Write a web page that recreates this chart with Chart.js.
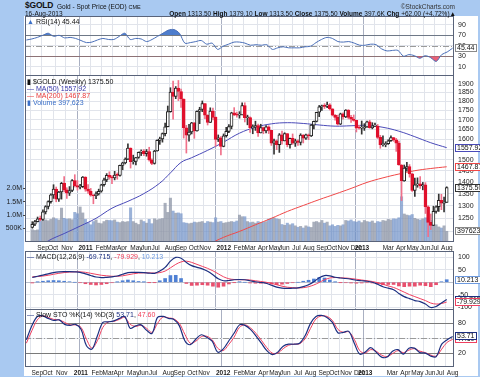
<!DOCTYPE html>
<html>
<head>
<meta charset="utf-8">
<script src="https://cdn.jsdelivr.net/npm/chart.js@4.4.1/dist/chart.umd.min.js"></script>
<style>
  body { margin:0; width:480px; height:377px; overflow:hidden; position:relative; background:#a9c9f1; font-family:"Liberation Sans", Arial, sans-serif; }
  #frame { position:absolute; left:24px; top:16px; width:454px; height:360px; background:#fff; }
  canvas { position:absolute; left:0; }
  .t { position:absolute; white-space:nowrap; font-size:7px; line-height:7px; color:#111; z-index:5; }
</style>
</head>
<body>
<div id="frame"></div>
<canvas id="rsiChart" width="480" height="60" style="top:16px"></canvas>
<canvas id="priceChart" width="480" height="177" style="top:75px"></canvas>
<canvas id="macdChart" width="480" height="59" style="top:251px"></canvas>
<canvas id="stoChart" width="480" height="68" style="top:309px"></canvas>

<div class="t" style="left:25px;top:1px;font-size:8.5px;line-height:9px;font-weight:bold;letter-spacing:-0.2px">$GOLD</div>
<div class="t" style="left:57px;top:3px;font-size:6.5px">Gold - Spot Price (EOD) <span style="font-size:5.5px">CME</span></div>
<div class="t" style="right:25px;top:3px;color:#333;font-size:6.5px">&copy;StockCharts.com</div>
<div class="t" style="left:25px;top:10px;font-size:6.5px">16-Aug-2013</div>
<div class="t" style="right:24px;top:10px;font-size:6.5px"><b>Open</b> 1313.50 <b>High</b> 1379.10 <b>Low</b> 1313.50 <b>Close</b> 1375.50 <b>Volume</b> 397.6K <b>Chg</b> +62.00 (+4.72%)&#9650;</div>

<div class="t" style="left:27px;top:18px"><span style="color:#3a6fc8">&#9650;</span> RSI(14) 45.44</div>
<div class="t" style="left:27px;top:78px"><b>&#9646;</b> $GOLD (Weekly) 1375.50</div>
<div class="t" style="left:27px;top:85px;color:#3434a8">&#8212; MA(50) 1557.92</div>
<div class="t" style="left:27px;top:92px;color:#e83838">&#8212; MA(200) 1467.87</div>
<div class="t" style="left:27px;top:99px;color:#3a6fc8">&#9646; Volume 397,623</div>
<div class="t" style="left:27px;top:253px"><span style="color:#1c2f80">&#8212;</span> MACD(12,26,9) <span style="color:#1c2f80">-69.715</span>, <span style="color:#f0405a">-79.929</span>, <span style="color:#6d9ae0">10.213</span></div>
<div class="t" style="left:27px;top:311px"><span style="color:#1c2f80">&#8212;</span> Slow STO %K(14) %D(3) <span style="color:#1c2f80">53.71</span>, <span style="color:#f0405a">47.60</span></div>

<script>
// weekly bars, 20-Aug-2010 .. 16-Aug-2013 (157 weeks)
const opens = [1215,1227,1237,1248,1246,1275,1297,1317,1345,1369,1327,1357,1394,1366,1352,1363,1406,1384,1377,1380,
  1421,1369,1360,1343,1341,1349,1360,1388,1409,1429,1421,1418,1430,1429,1474,1486,1503,1556,1491,1493,1511,1536,1542,1529,1539,1500,1483,1542,1594,1601,1628,1663,1743,1852,1828,1876,1856,1813,1657,1620,1636,1683,1642,1745,1755,1788,1724,1685,1746,1712,1598,1606,
  1564,1617,1639,1664,1737,1725,1724,1725,1776,1710,1711,1658,1662,1669,1631,1659,1642,1663,1644,1580,1592,1572,1622,1591,1628,1572,1604,1580,1591,1583,1620,1605,1621,1616,1671,1691,1740,1770,1774,1772,1781,1758,1724,1712,1676,1731,1714,1751,1712,1703,1696,1657,
  1656,1656,1662,1688,1658,1666,1667,1609,1573,1573,1578,1592,1608,1596,1580,1476,1404,1462,1469,1436,1364,1387,1392,1383,1388,1296,1234,1223,1277,1296,1322,1310,1313.5];
const highs = [1237,1242,1255,1259,1283,1300,1320,1349,1388,1378,1360,1398,1424,1375,1380,1410,1432,1406,1390,1424,
  1423,1389,1372,1345,1358,1369,1390,1417,1437,1445,1428,1447,1440,1476,1489,1509,1577,1557,1522,1512,1537,1547,1549,1549,1560,1505,1545,1597,1610,1631,1682,1774,1878,1917,1885,1921,1870,1814,1670,1675,1686,1685,1748,1767,1802,1789,1726,1764,1763,1716,1621,1613,
  1626,1660,1674,1740,1765,1741,1743,1791,1792,1724,1715,1673,1692,1677,1676,1661,1669,1668,1645,1600,1596,1628,1641,1632,1628,1605,1626,1600,1597,1627,1623,1625,1626,1675,1693,1740,1777,1779,1787,1796,1787,1759,1727,1724,1735,1736,1754,1754,1723,1725,1697,1670,
  1693,1679,1693,1697,1684,1682,1675,1619,1616,1587,1597,1616,1609,1604,1590,1478,1476,1488,1478,1438,1417,1418,1424,1398,1397,1300,1267,1298,1300,1348,1347,1335,1379.1];
const lows = [1212,1222,1236,1240,1242,1267,1287,1310,1330,1316,1318,1327,1357,1330,1342,1358,1378,1365,1370,1376,
  1360,1351,1339,1308,1329,1344,1356,1382,1401,1412,1392,1409,1412,1425,1454,1481,1501,1462,1480,1476,1507,1520,1519,1517,1494,1478,1480,1541,1574,1585,1616,1662,1740,1702,1815,1804,1766,1605,1532,1590,1626,1604,1640,1679,1743,1705,1672,1685,1699,1565,1588,1523,
  1562,1610,1632,1652,1721,1713,1708,1725,1688,1673,1634,1627,1644,1613,1631,1627,1631,1628,1569,1527,1548,1535,1575,1591,1562,1555,1574,1564,1569,1571,1581,1598,1597,1613,1652,1688,1716,1750,1760,1765,1752,1720,1698,1672,1674,1703,1711,1704,1685,1692,1636,1651,
  1625,1644,1660,1655,1652,1663,1603,1555,1565,1562,1574,1588,1589,1540,1475,1321,1403,1448,1421,1359,1338,1377,1372,1366,1269,1180,1207,1222,1270,1277,1284,1275,1313.5];
const closes = [1227,1237,1248,1246,1275,1297,1317,1345,1369,1327,1357,1394,1366,1352,1363,1406,1384,1377,1380,1421,
  1369,1360,1343,1341,1349,1360,1388,1409,1429,1421,1418,1430,1429,1474,1486,1503,1556,1491,1493,1511,1536,1542,1529,1539,1500,1483,1542,1594,1601,1628,1663,1743,1852,1828,1876,1856,1813,1657,1620,1636,1683,1642,1745,1755,1788,1724,1685,1746,1712,1598,1606,1564,
  1617,1639,1664,1737,1725,1724,1725,1776,1710,1711,1658,1662,1669,1631,1659,1642,1663,1644,1580,1592,1572,1622,1591,1628,1572,1604,1580,1591,1583,1620,1605,1621,1616,1671,1691,1740,1770,1774,1772,1781,1758,1724,1712,1676,1731,1714,1751,1712,1703,1696,1657,1656,
  1656,1662,1688,1658,1666,1667,1609,1573,1573,1578,1592,1608,1596,1580,1476,1404,1462,1469,1436,1364,1387,1392,1383,1388,1296,1234,1223,1277,1296,1322,1310,1313.5,1375.5];
// volume in thousands
const volumeK = [460,430,450,780,800,820,790,840,900,860,820,1260,880,850,860,830,1100,1050,1300,1080,
  840,720,640,760,820,700,680,760,810,800,790,820,740,720,760,740,760,1270,760,700,650,820,760,700,840,680,860,820,850,870,
  1440,1100,1630,1150,1070,1080,1050,720,700,680,700,740,720,740,760,700,760,740,720,900,740,760,700,720,740,760,740,780,1000,940,
  940,760,720,740,700,760,720,740,760,850,880,900,860,840,650,620,700,640,680,600,550,580,520,600,560,540,740,760,720,800,
  700,740,600,640,580,620,600,640,800,780,820,760,740,780,720,800,760,740,780,700,760,740,800,780,840,820,860,850,900,1680,
  1040,1000,980,1020,880,840,820,860,900,820,800,760,640,560,520,600,397.6];

// moving averages (week index, value)
const ma50Weeks = [0,6,12,18,24,30,36,42,48,52,56,60,66,72,78,84,90,96,102,108,114,120,126,132,138,144,150,156];
const ma50 = [1125,1165,1192,1220,1250,1290,1318,1350,1395,1440,1488,1510,1545,1585,1630,1660,1678,1684,1680,1672,1666,1668,1670,1660,1640,1612,1582,1557.92];
const ma200Weeks = [60,66,72,78,84,90,96,102,108,114,120,126,132,138,144,150,156];
const ma200 = [1120,1150,1178,1200,1225,1250,1277,1301,1325,1348,1372,1398,1418,1435,1450,1460,1467.87];

// indicators, every second week
const oscWeeks = [0,2,4,6,8,10,12,14,16,18,20,22,24,26,28,30,32,34,36,38,40,42,44,46,48,50,52,54,56,58,60,62,64,66,68,70,72,74,76,78,
  80,82,84,86,88,90,92,94,96,98,100,102,104,106,108,110,112,114,116,118,120,122,124,126,128,130,132,134,136,138,140,142,144,146,148,150,152,154,156];
const rsi = [61,63,66,70,74,68,70,65,66,64,60,56,57,61,64,62,62,68,74,62,64,63,58,62,68,74,80,81,74,55,56,58,60,53,55,43,49,53,57,57,
  55,51,52,51,52,43,46,48,46,46,46,48,49,56,62,66,64,58,57,58,55,51,51,53,52,44,40,41,41,30,33,31,26,31,27,20,33,38,45.44];
const macd = [19,24,29,34,39,42,43,43,42,40,34,27,21,19,20,22,25,32,39,40,40,39,37,36,45,60,85,100,97,80,67,60,54,44,30,14,6,7,10,11,
  10,6,2,-1,-4,-12,-20,-24,-25,-24,-23,-18,-10,2,18,27,26,20,17,15,12,8,6,4,0,-8,-18,-24,-30,-45,-58,-66,-74,-78,-88,-102,-98,-84,-69.715];
const signal = [22,23,25,28,32,36,39,41,42,42,40,36,32,28,26,24,24,26,30,34,37,38,38,37,39,45,58,72,82,85,80,72,64,56,46,34,22,14,11,10,
  10,9,6,3,0,-4,-10,-16,-20,-22,-23,-22,-18,-11,-1,10,17,19,18,17,15,12,9,6,3,-2,-8,-15,-21,-30,-40,-50,-58,-66,-74,-84,-88,-86,-79.929];
const hist = [-3,1,4,6,7,6,4,2,0,-2,-6,-9,-11,-9,-6,-2,1,6,9,6,3,1,-1,-1,6,15,27,28,15,-5,-13,-12,-10,-12,-16,-20,-16,-7,-1,1,
  0,-3,-4,-4,-4,-8,-10,-8,-5,-2,0,4,8,13,19,17,9,1,-1,-2,-3,-4,-3,-2,-3,-6,-10,-9,-9,-15,-18,-16,-16,-12,-14,-18,-10,2,10.213];
const stoK = [47,75,94,95,90,86,87,78,76,78,68,35,28,55,82,83,85,90,94,70,75,77,66,60,92,94,90,88,75,45,37,48,57,52,44,22,28,44,60,77,
  76,68,55,40,25,17,22,34,38,38,40,55,80,94,96,92,82,61,62,64,40,18,22,31,22,12,12,24,27,18,30,30,21,20,14,13,38,47,53.71];
const stoD = [40,65,87,95,92,88,87,82,77,77,72,48,30,45,72,83,84,88,92,78,74,76,70,62,80,93,91,89,80,58,40,44,53,54,47,30,25,37,52,72,
  77,71,60,46,31,20,20,29,36,38,39,49,70,89,95,94,86,68,62,63,48,25,20,27,24,16,13,19,25,21,26,29,24,21,16,14,28,42,47.60];

// date axis: week index where each month starts
const monthWeeks = [2,6,11,15,20,24,28,32,37,41,45,50,54,59,63,67,72,76,80,85,89,93,98,102,107,111,115,120,124,128,132,137,141,146,150,154];
const monthLabels = ['Sep','Oct','Nov','','2011','Feb','Mar','Apr','May','Jun','Jul','Aug','Sep','Oct','Nov','','2012','Feb','Mar','Apr','May','Jun','Jul','Aug','Sep','Oct','Nov','Dec','2013','','Mar','Apr','May','Jun','Jul','Aug'];
const yearStarts = [20,72,124];
const priceTicks = [1200,1250,1300,1350,1400,1450,1500,1550,1600,1650,1700,1750,1800,1850,1900];
const volTicks = [500000,1000000,1500000,2000000];

const FONT = '"Liberation Sans", Arial, sans-serif';
const GRID = '#e1e4eb';
const up = i => closes[i] >= opens[i];
const isYear = k => /^20/.test(monthLabels[k] || '');
const pts = (xs, ys) => ys.map((v, k) => ({x: xs[k], y: v}));

const panelPlugin = {
  id: 'panel',
  beforeDatasetsDraw(chart, args, opts) {
    const {ctx, chartArea: a} = chart;
    const y = chart.scales.y;
    (opts.lines || []).forEach(l => {
      const py = Math.round(y.getPixelForValue(l.value)) + 0.5;
      ctx.save();
      ctx.strokeStyle = l.color; ctx.lineWidth = 1; ctx.setLineDash(l.dash || []);
      ctx.beginPath(); ctx.moveTo(a.left, py); ctx.lineTo(a.right, py); ctx.stroke();
      ctx.restore();
    });
  },
  afterDraw(chart, args, opts) {
    const {ctx, chartArea: a} = chart;
    ctx.save();
    ctx.strokeStyle = '#59637a'; ctx.lineWidth = 1;
    ctx.strokeRect(Math.round(a.left) + 0.5, Math.round(a.top) + 0.5, Math.round(a.right - a.left) - 1, Math.round(a.bottom - a.top) - 1);
    ctx.font = '7px ' + FONT;
    ctx.textBaseline = 'middle';
    (opts.badges || []).forEach(b => {
      const py = Math.round(chart.scales[b.axis || 'y'].getPixelForValue(b.value));
      const w = Math.ceil(ctx.measureText(b.text).width) + 3;
      const x = Math.round(a.right) + 1;
      ctx.fillStyle = '#fff'; ctx.fillRect(x, py - 4, w, 8);
      ctx.strokeStyle = b.color; ctx.strokeRect(x + 0.5, py - 3.5, w, 7);
      ctx.fillStyle = '#111'; ctx.fillText(b.text, x + 2, py + 0.5);
    });
    ctx.restore();
  }
};
Chart.register(panelPlugin);

// month grid lines (no labels)
function gridAxis() {
  return {
    type: 'linear', min: -0.5, max: 156.5,
    afterBuildTicks: s => { s.ticks = monthWeeks.map(w => ({value: w - 0.5})); },
    afterFit: s => { s.height = 0; s.paddingLeft = 0; s.paddingRight = 0; },
    ticks: {display: false},
    grid: {
      drawTicks: false,
      color: c => (c.tick && yearStarts.includes(c.tick.value + 0.5)) ? '#aab0c2' : GRID
    },
    border: {display: false}
  };
}

// month / year labels (no grid); years sit centred on their line
function labelAxis() {
  return {
    type: 'linear', axis: 'x', position: 'bottom', min: -0.5, max: 156.5,
    afterBuildTicks: s => { s.ticks = monthWeeks.map((w, k) => ({value: isYear(k) ? w - 3 : w - 0.5})); },
    afterFit: s => { s.height = 10; s.paddingLeft = 0; s.paddingRight = 0; },
    ticks: {
      autoSkip: false, maxRotation: 0, minRotation: 0, align: 'start', labelOffset: 1, padding: 2,
      color: '#1a1a1a',
      font: c => ({family: FONT, size: 6.5, weight: isYear(c.index) ? 'bold' : 'normal'}),
      callback: (v, i) => monthLabels[i]
    },
    grid: {display: false, drawTicks: false},
    border: {display: false}
  };
}

function yAxis(min, max, ticks, extra) {
  return Object.assign({
    type: 'linear', position: 'right', min: min, max: max,
    afterBuildTicks: s => { s.ticks = ticks.map(v => ({value: v})); },
    afterFit: s => { s.width = 26; s.paddingTop = 0; s.paddingBottom = 0; },
    ticks: {color: '#1a1a1a', font: {family: FONT, size: 7}, padding: 4, callback: v => String(v)},
    grid: {color: GRID, drawTicks: false},
    border: {display: false}
  }, extra || {});
}

const baseOptions = (scales, panel, padLeft) => ({
  responsive: false, animation: false, events: [],
  layout: {padding: {left: padLeft, right: 0, top: 0, bottom: 0}},
  scales: scales,
  plugins: {legend: {display: false}, tooltip: {enabled: false}, panel: panel}
});

// RSI panel
new Chart(document.getElementById('rsiChart'), {
  type: 'line',
  data: {datasets: [
    {data: pts(oscWeeks, rsi), borderColor: '#4a6fb8', borderWidth: 1, pointRadius: 0, tension: 0.3,
     fill: {target: {value: 70}, above: 'rgba(58,111,200,0.9)', below: 'rgba(0,0,0,0)'}},
    {data: pts(oscWeeks, rsi), borderColor: 'rgba(0,0,0,0)', borderWidth: 0, pointRadius: 0, tension: 0.3,
     fill: {target: {value: 30}, above: 'rgba(0,0,0,0)', below: 'rgba(232,80,104,0.9)'}}
  ]},
  options: baseOptions({x: gridAxis(), y: yAxis(-8, 107, [10, 30, 50, 70, 90])}, {
    lines: [{value: 70, color: '#7a7a7a'}, {value: 30, color: '#7a7a7a'}, {value: 50, color: '#9a9a9a', dash: [6, 2, 1, 2]}],
    badges: [{value: 45.44, text: '45.44', color: '#8a8a8a'}]
  }, 25)
});

// price panel
new Chart(document.getElementById('priceChart'), {
  type: 'bar',
  data: {datasets: [
    {type: 'bar', yAxisID: 'y', order: 1, grouped: false, barThickness: 3, minBarLength: 1, borderSkipped: false, borderWidth: 1,
     data: opens.map((o, i) => ({x: i, y: [o, closes[i]]})),
     backgroundColor: c => up(c.dataIndex) ? '#ffffff' : '#e0102c',
     borderColor: c => up(c.dataIndex) ? '#222222' : '#e0102c'},
    {type: 'bar', yAxisID: 'y', order: 2, grouped: false, barThickness: 1,
     data: lows.map((l, i) => ({x: i, y: [l, highs[i]]})),
     backgroundColor: c => up(c.dataIndex) ? '#333333' : '#f0708a'},
    {type: 'line', yAxisID: 'y', order: 3, data: pts(ma50Weeks, ma50), borderColor: '#4a4ab8', borderWidth: 1, pointRadius: 0, tension: 0.4},
    {type: 'line', yAxisID: 'y', order: 3, data: pts(ma200Weeks, ma200), borderColor: '#f04848', borderWidth: 1, pointRadius: 0, tension: 0.4},
    {type: 'bar', yAxisID: 'yv', order: 9, grouped: false, barThickness: 2.4,
     data: volumeK.map((v, i) => ({x: i, y: v * 1000})),
     backgroundColor: c => up(c.dataIndex) ? 'rgba(140,148,166,0.75)' : 'rgba(112,146,200,0.7)'}
  ]},
  options: baseOptions({
    x: gridAxis(),
    xl: labelAxis(),
    y: yAxis(1161, 1954, priceTicks, {type: 'logarithmic'}),
    yv: {
      type: 'linear', position: 'left', min: 0, max: 6200000,
      afterBuildTicks: s => { s.ticks = volTicks.map(v => ({value: v})); },
      afterFit: s => { s.width = 25; s.paddingTop = 0; s.paddingBottom = 0; },
      ticks: {color: '#1a1a1a', font: {family: FONT, size: 7}, padding: 1,
              callback: v => v >= 1000000 ? (v / 1000000).toFixed(1) + 'M' : (v / 1000) + 'K'},
      grid: {drawOnChartArea: false, drawTicks: true, tickLength: 2, color: '#444'},
      border: {display: false}
    }
  }, {
    badges: [
      {value: 1557.92, text: '1557.92', color: '#4a4ab8'},
      {value: 1467.87, text: '1467.87', color: '#f04848'},
      {value: 1375.5, text: '1375.50', color: '#333'},
      {axis: 'yv', value: 397623, text: '397623', color: '#888'}
    ]
  }, 0)
});

// MACD panel
new Chart(document.getElementById('macdChart'), {
  type: 'line',
  data: {datasets: [
    {type: 'line', order: 1, data: pts(oscWeeks, macd), borderColor: '#1c2f80', borderWidth: 1.2, pointRadius: 0, tension: 0.35},
    {type: 'line', order: 2, data: pts(oscWeeks, signal), borderColor: '#f04060', borderWidth: 1, pointRadius: 0, tension: 0.35},
    {type: 'bar', order: 5, grouped: false, barThickness: 3, data: pts(oscWeeks, hist),
     backgroundColor: c => (hist[c.dataIndex] >= 0 ? '#4f80d4' : '#e8506e')}
  ]},
  options: baseOptions({x: gridAxis(), y: yAxis(-112, 126, [-100, -50, 0, 50, 100])}, {
    lines: [{value: 0, color: '#b9bfcc'}],
    badges: [
      {value: 10.213, text: '10.213', color: '#6d9ae0'},
      {value: -69.715, text: '-69.715', color: '#1c2f80'},
      {value: -79.929, text: '-79.929', color: '#f04060'}
    ]
  }, 25)
});

// Slow stochastics panel
new Chart(document.getElementById('stoChart'), {
  type: 'line',
  data: {datasets: [
    {data: pts(oscWeeks, stoK), borderColor: '#1c2f80', borderWidth: 1.2, pointRadius: 0, tension: 0.35},
    {data: pts(oscWeeks, stoD), borderColor: '#f04060', borderWidth: 1, pointRadius: 0, tension: 0.35}
  ]},
  options: baseOptions({x: gridAxis(), xl: labelAxis(), y: yAxis(-8, 109, [20, 50, 80])}, {
    lines: [{value: 80, color: '#7a7a7a'}, {value: 20, color: '#7a7a7a'}, {value: 50, color: '#9a9a9a', dash: [6, 2, 1, 2]}],
    badges: [
      {value: 47.6, text: '47.60', color: '#f04060'},
      {value: 53.71, text: '53.71', color: '#1c2f80'}
    ]
  }, 25)
});
</script>
</body>
</html>
